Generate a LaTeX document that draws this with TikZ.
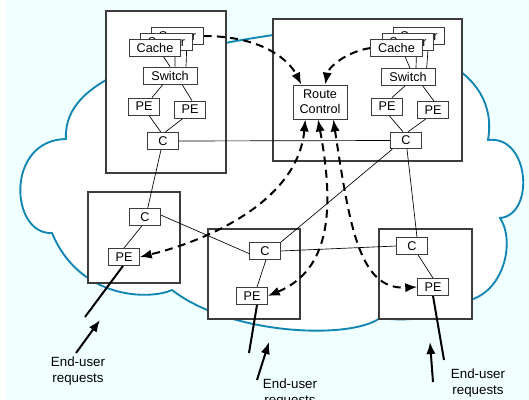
\documentclass[tikz,border=0pt]{standalone}
\usepackage{fontspec}
\setmainfont{Liberation Sans}
\usetikzlibrary{arrows.meta, positioning}
\definecolor{SkyWash}{RGB}{240,255,255}
\definecolor{CloudBlue}{RGB}{16,134,178}
\definecolor{EdgeGray}{RGB}{60,60,60}
\pgfdeclarelayer{back}
\pgfdeclarelayer{front}
\pgfsetlayers{back,main,front}

\begin{document}
\begin{tikzpicture}[x=0.75pt, y=-0.75pt, font=\fontsize{9.5}{11}\selectfont,
    site/.style={draw=EdgeGray, fill=white, line width=0.8pt},
    unit/.style={draw=EdgeGray, fill=white, line width=0.6pt, inner sep=0pt, minimum height=12.75pt},
    cachebox/.style={unit, minimum width=38.5pt},
    switchbox/.style={unit, minimum width=40.5pt},
    pebox/.style={unit, minimum width=23pt},
    cbox/.style={unit, minimum width=23pt, minimum height=12.5pt},
    ctrlbox/.style={unit, minimum width=40.5pt, minimum height=25.5pt, align=center},
    link/.style={line width=0.5pt},
    cloud/.style={draw=CloudBlue, fill=white, line width=1.4pt},
    ctrl/.style={line width=1.5pt, dash pattern=on 6pt off 4pt, -{Latex[length=9pt,width=7pt]}},
    ctrlboth/.style={ctrl, {Latex[length=9pt,width=7pt]}-{Latex[length=9pt,width=7pt]}},
    access/.style={line width=1.5pt},
    request/.style={line width=1.5pt, -{Latex[length=9pt,width=7pt]}},
    enduser/.style={align=center, font=\fontsize{10}{12}\selectfont}]

    \useasboundingbox (0,0) rectangle (529,400);
    \clip (0,0) rectangle (529,400);

    % Cloud and sites
    \begin{pgfonlayer}{back}
    \fill[SkyWash] (6,0) rectangle (529,400);
    \draw[cloud] (66,139) .. controls (62,75) and (170,50) .. (280,34)
        .. controls (420,30) and (500,70) .. (488,140)
        .. controls (530,135) and (535,215) .. (500,218)
        .. controls (515,240) and (505,290) .. (470,300)
        .. controls (440,318) and (410,322) .. (380,318)
        .. controls (350,340) and (230,335) .. (172,290)
        .. controls (150,300) and (80,300) .. (52,233)
        .. controls (10,235) and (5,140) .. cycle;
    \node[site, minimum width=90pt, minimum height=121.5pt] (siteL) at (166,92) {};
    \node[site, minimum width=141.75pt, minimum height=106.5pt] (siteR) at (367.5,90) {};
    \node[site, minimum width=69pt, minimum height=68.25pt] (siteA) at (134,237.5) {};
    \node[site, minimum width=69pt, minimum height=67.5pt] (siteB) at (254,274) {};
    \node[site, minimum width=69.75pt, minimum height=67.5pt] (siteC) at (425.5,274) {};
    \end{pgfonlayer}

    % Nodes
    \begin{pgfonlayer}{front}
    \node[cachebox] (cacheL3) at (177.5,36) {Server};
    \node[cachebox] (cacheL2) at (166.5,42) {Server};
    \node[cachebox] (cacheL1) at (155,48) {Cache};
    \node[switchbox] (switchL) at (170,75.5) {Switch};
    \node[pebox] (peL1) at (144,106.5) {PE};
    \node[pebox] (peL2) at (190,109.5) {PE};
    \node[cbox] (cL) at (163,141) {C};

    \node[ctrlbox] (rc) at (320,102) {Route\\Control};
    \node[cachebox] (cacheR3) at (419,36) {Server};
    \node[cachebox] (cacheR2) at (408,42) {Server};
    \node[cachebox] (cacheR1) at (396.5,48) {Cache};
    \node[switchbox] (switchR) at (408,77) {Switch};
    \node[pebox] (peR1) at (387,106.5) {PE};
    \node[pebox] (peR2) at (433,110) {PE};
    \node[cbox] (cR) at (406,140.5) {C};

    \node[cbox] (cA) at (145,217) {C};
    \node[pebox] (peA) at (124,257) {PE};
    \node[cbox] (cB) at (265,251) {C};
    \node[pebox] (peB) at (252,296) {PE};
    \node[cbox] (cC) at (412,246) {C};
    \node[pebox] (peC) at (433,287) {PE};
    \end{pgfonlayer}

    \node[enduser] (usrA) at (78,371) {End-user\\requests};
    \node[enduser] (usrB) at (290,393) {End-user\\requests};
    \node[enduser] (usrC) at (478,383) {End-user\\requests};
    \coordinate (uA) at (85,317);
    \coordinate (uB) at (249,353);
    \coordinate (uC) at (444,360);
    \coordinate (rqA) at (76,353);
    \coordinate (hdA) at (100,320);
    \coordinate (rqB) at (257,380);
    \coordinate (hdB) at (269,342);
    \coordinate (rqC) at (433,382);
    \coordinate (hdC) at (430,342);

    % Connectors
    \draw[link] ([xshift=6.5pt]cacheL1.south) -- (switchL.north);
    \draw[link] ([xshift=6.4pt]cacheL2.south) -- ([xshift=3.75pt]switchL.north);
    \draw[link] ([xshift=7pt]cacheL3.south) -- ([xshift=12pt]switchL.north);
    \draw[link] ([xshift=-5.25pt]switchL.south) -- ([xshift=6pt]peL1.north);
    \draw[link] ([xshift=9pt]switchL.south) -- ([xshift=1.5pt]peL2.north);
    \draw[link] ([xshift=3.75pt]peL1.south) -- ([xshift=-1.5pt]cL.north);
    \draw[link] ([xshift=-5.25pt]peL2.south) -- ([xshift=1.5pt]cL.north);

    \draw[link] ([xshift=6.5pt]cacheR1.south) -- ([xshift=1.5pt]switchR.north);
    \draw[link] ([xshift=6.4pt]cacheR2.south) -- ([xshift=6pt]switchR.north);
    \draw[link] ([xshift=7pt]cacheR3.south) -- ([xshift=14pt]switchR.north);
    \draw[link] ([xshift=-2.25pt]switchR.south) -- ([xshift=3.75pt]peR1.north);
    \draw[link] ([xshift=11pt]switchR.south) -- ([xshift=0.75pt]peR2.north);
    \draw[link] ([xshift=1.5pt]peR1.south) -- ([xshift=-2.25pt]cR.north);
    \draw[link] ([xshift=-5.25pt]peR2.south) -- ([xshift=1.5pt]cR.north);

    \draw[link] (cL.east) -- (cR.west);
    \draw[link] ([xshift=-1.5pt]cL.south) -- ([xshift=2pt]cA.north);
    \draw[link] ([yshift=1.5pt]cA.east) -- ([yshift=-2pt]cB.west);
    \draw[link] ([xshift=-2.25pt]cA.south) -- (peA.north);
    \draw[link] (cB.north east) -- ([xshift=1.5pt]cR.south west);
    \draw[link] ([xshift=0.75pt]cB.south) -- ([xshift=3.75pt]peB.north);
    \draw[link] (cB.east) -- (cC.west);
    \draw[link] ([xshift=0.75pt]cR.south) -- ([xshift=3.75pt]cC.north);
    \draw[link] ([xshift=4.5pt]cC.south) -- (peC.north);

    \draw[access] ([xshift=-0.75pt]peA.south) -- (uA);
    \draw[access] ([xshift=3.75pt]peB.south) -- (uB);
    \draw[access] (peC.south) -- (uC);
    \draw[request] (rqA) -- (hdA);
    \draw[request] (rqB) -- (hdB);
    \draw[request] (rqC) -- (hdC);

    \draw[ctrl] (cacheL3.east) .. controls (265,36) and (290,62) .. ([xshift=-14pt]rc.north);
    \draw[ctrl] (cacheR1.west) .. controls (345,52) and (328,68) .. ([xshift=4pt]rc.north);
    \draw[ctrlboth] ([xshift=-11pt]rc.south) .. controls (298,200) and (210,240) .. (peA.east);
    \draw[ctrlboth] ([xshift=-1.5pt]rc.south) .. controls (335,210) and (330,270) .. (peB.east);
    \draw[ctrlboth] ([xshift=10pt]rc.south) .. controls (350,230) and (360,290) .. (peC.west);
\end{tikzpicture}
\end{document}
